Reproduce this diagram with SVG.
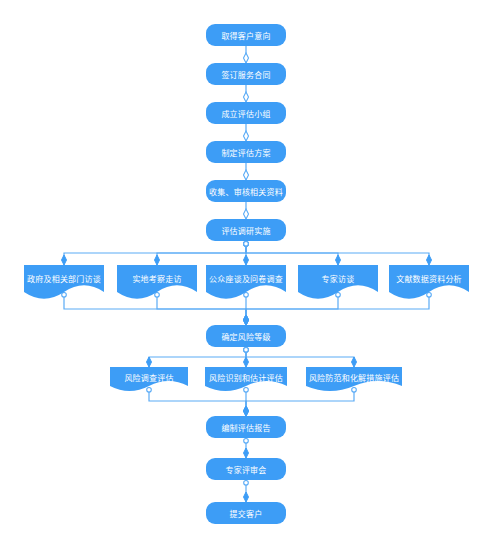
<svg xmlns="http://www.w3.org/2000/svg" width="500" height="556" viewBox="0 0 500 556">
<style>
.box{fill:#3d9df6;}
.doc{fill:#3d9df6;}
.t{fill:#ffffff;font-family:"Noto Sans CJK SC","Noto Sans",sans-serif;font-size:8px;text-anchor:middle;dominant-baseline:central;letter-spacing:0.2px;}
.e{fill:none;stroke:#5aabf6;stroke-width:1.2;}
.eo{marker-end:url(#dOpen);}
.ef{marker-start:url(#circ);marker-end:url(#dFill);}
</style>
<defs>
<marker id="dOpen" viewBox="-1 -1 12 8" refX="10" refY="3" markerWidth="12" markerHeight="8" markerUnits="userSpaceOnUse" orient="auto"><path d="M0,3 L5,0.5 L10,3 L5,5.5 Z" fill="#ffffff" stroke="#5aabf6" stroke-width="1.1"/></marker>
<marker id="dFill" viewBox="-1 -1 12 8" refX="10" refY="3" markerWidth="12" markerHeight="8" markerUnits="userSpaceOnUse" orient="auto"><path d="M0,3 L5,0.5 L10,3 L5,5.5 Z" fill="#3d9df6" stroke="#3d9df6" stroke-width="1"/></marker>
<marker id="circ" viewBox="-1 -1 8 8" refX="0.2" refY="3" markerWidth="8" markerHeight="8" markerUnits="userSpaceOnUse" orient="auto"><circle cx="3" cy="3" r="2.3" fill="#ffffff" stroke="#5aabf6" stroke-width="1.1"/></marker>
</defs>

<g id="connectors">
<path class="e eo" d="M246,46 V63"/>
<path class="e eo" d="M246,85 V102"/>
<path class="e eo" d="M246,124 V141"/>
<path class="e eo" d="M246,163 V180"/>
<path class="e eo" d="M246,202 V219"/>
<path class="e ef" d="M246,241 V253 H64 V265"/>
<path class="e ef" d="M246,241 V253 H157 V265"/>
<path class="e ef" d="M246,241 V265"/>
<path class="e ef" d="M246,241 V253 H338 V265"/>
<path class="e ef" d="M246,241 V253 H429 V265"/>
<path class="e ef" d="M64,292 V309 H246 V325"/>
<path class="e ef" d="M157,292 V309 H246 V325"/>
<path class="e ef" d="M246,292 V325"/>
<path class="e ef" d="M338,292 V309 H246 V325"/>
<path class="e ef" d="M429,292 V309 H246 V325"/>
<path class="e ef" d="M246,347 V357 H149 V367"/>
<path class="e ef" d="M246,347 V367"/>
<path class="e ef" d="M246,347 V357 H354 V367"/>
<path class="e ef" d="M149,387 V401 H246 V416"/>
<path class="e ef" d="M246,387 V416"/>
<path class="e ef" d="M354,387 V401 H246 V416"/>
<path class="e ef" d="M246,438 V458"/>
<path class="e ef" d="M246,480 V502"/>
</g>

<g id="n1"><rect class="box" x="206" y="24" width="80" height="22" rx="9"/><text class="t" x="246" y="35">取得客户意向</text></g>
<g id="n2"><rect class="box" x="206" y="63" width="80" height="22" rx="9"/><text class="t" x="246" y="74">签订服务合同</text></g>
<g id="n3"><rect class="box" x="206" y="102" width="80" height="22" rx="9"/><text class="t" x="246" y="113">成立评估小组</text></g>
<g id="n4"><rect class="box" x="206" y="141" width="80" height="22" rx="9"/><text class="t" x="246" y="152">制定评估方案</text></g>
<g id="n5"><rect class="box" x="206" y="180" width="80" height="22" rx="9"/><text class="t" x="246" y="191">收集、审核相关资料</text></g>
<g id="n6"><rect class="box" x="206" y="219" width="80" height="22" rx="9"/><text class="t" x="246" y="230">评估调研实施</text></g>

<g id="d1"><path class="doc" d="M24,265 H104 V292 Q84,278.6 64,292 Q44,305.4 24,292 Z"/><text class="t" x="64" y="278">政府及相关部门访谈</text></g>
<g id="d2"><path class="doc" d="M117,265 H197 V292 Q177,278.6 157,292 Q137,305.4 117,292 Z"/><text class="t" x="157" y="278">实地考察走访</text></g>
<g id="d3"><path class="doc" d="M206,265 H286 V292 Q266,278.6 246,292 Q226,305.4 206,292 Z"/><text class="t" x="246" y="278">公众座谈及问卷调查</text></g>
<g id="d4"><path class="doc" d="M298,265 H378 V292 Q358,278.6 338,292 Q318,305.4 298,292 Z"/><text class="t" x="338" y="278">专家访谈</text></g>
<g id="d5"><path class="doc" d="M389,265 H469 V292 Q449,278.6 429,292 Q409,305.4 389,292 Z"/><text class="t" x="429" y="278">文献数据资料分析</text></g>

<g id="n7"><rect class="box" x="206" y="325" width="80" height="22" rx="9"/><text class="t" x="246" y="336">确定风险等级</text></g>

<g id="r1"><path class="doc" d="M110,367 H188 V386 Q168.5,376 149,386 Q129.5,396 110,386 Z"/><text class="t" x="149" y="377.5">风险调查评估</text></g>
<g id="r2"><path class="doc" d="M205,367 H287 V386 Q266.5,376 246,386 Q225.5,396 205,386 Z"/><text class="t" x="246" y="377.5">风险识别和估计评估</text></g>
<g id="r3"><path class="doc" d="M306,367 H402 V386 Q378,376 354,386 Q330,396 306,386 Z"/><text class="t" x="354" y="377.5">风险防范和化解措施评估</text></g>

<g id="n8"><rect class="box" x="206" y="416" width="80" height="22" rx="9"/><text class="t" x="246" y="427">编制评估报告</text></g>
<g id="n9"><rect class="box" x="206" y="458" width="80" height="22" rx="9"/><text class="t" x="246" y="469">专家评审会</text></g>
<g id="n10"><rect class="box" x="206" y="502" width="80" height="22" rx="9"/><text class="t" x="246" y="513">提交客户</text></g>
</svg>
